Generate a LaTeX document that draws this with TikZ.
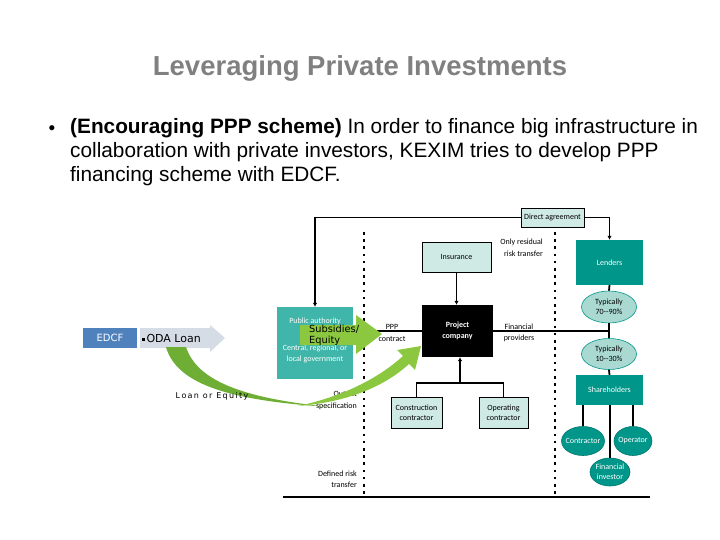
\documentclass[tikz,border=0pt]{standalone}
\usepackage{fontspec}
\setmainfont{Liberation Sans}
\newfontfamily\diagfont{Carlito}
\newfontfamily\vfont{DejaVu Sans}
\usetikzlibrary{arrows.meta,shapes.geometric}
\definecolor{tealmid}{HTML}{3FB6A9}
\definecolor{tealdark}{HTML}{00968A}
\definecolor{tealpale}{HTML}{CFE9E4}
\definecolor{tealoval}{HTML}{A9D9D1}
\definecolor{edcfblue}{HTML}{4F81BD}
\definecolor{odagrey}{HTML}{D6DCE6}
\definecolor{arrowgreen}{HTML}{8CC83F}
\definecolor{swooshgreen}{HTML}{6FAE35}
\definecolor{titlegrey}{HTML}{808080}
\begin{document}
\begin{tikzpicture}[x=1pt,y=-1pt,
  font=\diagfont\fontsize{8}{10}\selectfont,
  link/.style={line width=1.8pt},
  tip/.style={-{Latex[length=4pt,width=4.5pt]}},
  palebox/.style={draw,line width=0.8pt,fill=tealpale,align=center,inner sep=1pt},
  darkbox/.style={fill=tealdark,text=white,align=center,inner sep=1pt},
  paleoval/.style={ellipse,draw=tealdark,line width=0.6pt,fill=tealoval,align=center,inner xsep=-5pt,inner ysep=-3pt},
  darkoval/.style={ellipse,draw=tealdark!80!black,line width=0.6pt,fill=tealdark,text=white,align=center,inner xsep=-5pt,inner ysep=-3pt},
  dotline/.style={line width=2.4pt,dash pattern=on 2.6pt off 4.6pt},
  note/.style={align=center,inner sep=0pt,font=\diagfont\fontsize{8}{11.5}\selectfont}]
\useasboundingbox (0,0) rectangle (720,540);

% title and bullet text
\node[text=titlegrey,font=\bfseries\fontsize{27.5}{32}\selectfont] (title) at (360,68) {Leveraging Private Investments};
\node[font=\fontsize{19}{24}\selectfont] (bullet) at (52,130) {•};
\node[anchor=north west,align=left,inner sep=0pt,font=\fontsize{20.8}{24}\selectfont] (body) at (70,118)
  {\textbf{(Encouraging PPP scheme)} In order to finance big infrastructure in\\
   collaboration with private investors, KEXIM tries to develop PPP\\
   financing scheme with EDCF.};

% dotted separators and base line
\draw[dotline] (364,232) -- (364,497);
\draw[dotline] (555,232) -- (555,497);
\draw[line width=2pt] (283,497) -- (650,497);

% boxes
\node[fill=tealmid,minimum width=76pt,minimum height=72pt] (pub) at (315,343) {};
\node[text=white,inner sep=0pt] (pubname) at (315,321) {Public authority};
\node[text=white,align=center,inner sep=0pt,font=\diagfont\fontsize{8}{11}\selectfont] (pubkind) at (315,354) {Central, regional, or\\local government};
\node[palebox,minimum width=63pt,minimum height=19pt] (direct) at (552.5,217.5) {Direct agreement};
\node[darkbox,minimum width=67pt,minimum height=45pt] (lenders) at (609.5,262.5) {Lenders};
\node[palebox,minimum width=69pt,minimum height=30pt] (insur) at (456.5,257) {Insurance};
\node[fill=black,text=white,align=center,minimum width=71pt,minimum height=52pt,font=\diagfont\bfseries\fontsize{8}{10.5}\selectfont] (proj) at (457.5,331) {Project\\company};
\node[paleoval,minimum width=55pt,minimum height=32pt] (e70) at (609,307) {Typically\\70--90\%};
\node[paleoval,minimum width=55pt,minimum height=31pt] (e10) at (609,354) {Typically\\10--30\%};
\node[darkbox,minimum width=67pt,minimum height=30pt] (share) at (609.5,390) {Shareholders};
\node[darkoval,minimum width=43pt,minimum height=29pt] (contr) at (583,441) {Contractor};
\node[darkoval,minimum width=38pt,minimum height=29pt] (oper) at (633,441) {Operator};
\node[darkoval,minimum width=40pt,minimum height=28pt] (fininv) at (610,472) {Financial\\investor};
\node[palebox,minimum width=51pt,minimum height=31pt] (constr) at (416.5,412.5) {Construction\\contractor};
\node[palebox,minimum width=49pt,minimum height=31pt] (operc) at (503.5,412.5) {Operating\\contractor};

% connectors
\draw[link,tip] (direct.west) -| (pub.north);
\draw[link,tip] (direct.east) -| (lenders.north);
\draw[link,tip] (insur.south) -- (proj.north -| insur.south);
\draw[link] (pub.east |- proj.west) -- (proj.west);
\draw[link] (proj.east) -- (proj.east -| e70.south);
\draw[link] (lenders.south) -- (e70.north);
\draw[link] (e70.south) -- (e10.north);
\draw[link] (e10.south) -- (share.north);
\draw[link,tip] (460,383) coordinate (tj) -- (tj |- proj.south);
\draw[link] (constr.north) |- (tj) -| (operc.north);
\draw[link] (share.south -| contr.north) -- (contr.north);
\draw[link] (share.south -| fininv.north) -- (fininv.north);
\draw[link] (share.south -| oper.north) -- (oper.north);

% labels
\node[note,anchor=east,align=right] (resid) at (543,248) {Only residual\\risk transfer};
\node[note] (ppp) at (392,333) {PPP\\contract};
\node[note] (finprov) at (519,333) {Financial\\providers};
\node[note,anchor=east,align=right] (output) at (357,400.5) {Output\\specification};
\node[note,anchor=east,align=right] (defrisk) at (357,479) {Defined risk\\transfer};

% EDCF and ODA loan
\fill[odagrey] (140,328) -- (210,328) -- (210,325) -- (225,338) -- (210,352) -- (210,348) -- (140,348) -- cycle;
\node[fill=edcfblue,text=white,minimum width=54pt,minimum height=20pt,inner sep=0pt,font=\vfont\fontsize{10}{11}\selectfont] (edcf) at (110,338) {EDCF};
\node[anchor=west,inner sep=0pt,font=\vfont\fontsize{11}{12}\selectfont] (oda) at (142,338) {\rule[0.25ex]{2.5pt}{2.5pt}\,ODA Loan};

% green arrows
\fill[swooshgreen] (166,347) .. controls (177,386) and (235,401) .. (330,407)
  .. controls (240,398) and (197,380) .. (186,347) -- cycle;
\fill[arrowgreen] (298,406) .. controls (350,402) and (386,385) .. (409,364)
  -- (415,370) -- (421,346) -- (397,350) -- (403,356)
  .. controls (380,377) and (345,396) .. (298,406) -- cycle;
\fill[arrowgreen] (300,325) -- (356,325) -- (356,315) -- (382,334) -- (356,354) -- (356,345) -- (300,345) -- cycle;
\node[anchor=west,align=left,inner sep=0pt,font=\vfont\fontsize{9.8}{11}\selectfont] (subs) at (309,335) {Subsidies/\\Equity};
\node[inner sep=0pt,font=\vfont\fontsize{8}{9}\selectfont] (loan) at (212,396) {L\,o\,a\,n\, o\,r\, E\,q\,u\,i\,t\,y};
\end{tikzpicture}
\end{document}
